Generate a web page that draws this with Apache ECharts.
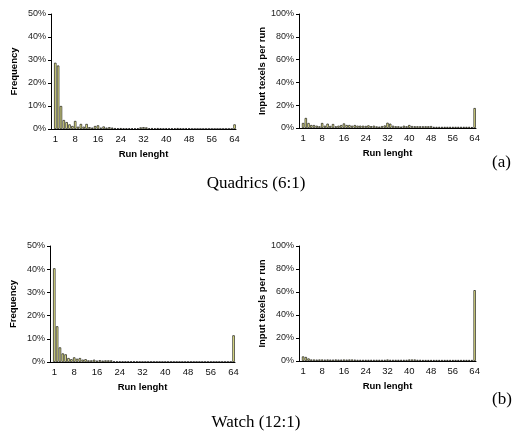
<!DOCTYPE html>
<html>
<head>
<meta charset="utf-8">
<script src="https://cdn.jsdelivr.net/npm/echarts@6/dist/echarts.min.js"></script>
<style>
  html, body { margin: 0; padding: 0; background: #fff; }
  #chart { width: 512px; height: 434px; }
</style>
</head>
<body>
<div id="chart"></div>
<script>
// Run lengths (category 0 is kept empty, as in the original axis)
const runLengths = [0, 1, 2, 3, 4, 5, 6, 7, 8, 9, 10, 11, 12, 13, 14, 15, 16,
  17, 18, 19, 20, 21, 22, 23, 24, 25, 26, 27, 28, 29, 30, 31, 32,
  33, 34, 35, 36, 37, 38, 39, 40, 41, 42, 43, 44, 45, 46, 47, 48,
  49, 50, 51, 52, 53, 54, 55, 56, 57, 58, 59, 60, 61, 62, 63, 64];

// Quadrics (6:1) - frequency, %
const quadricsFreq = [null,
  28.8, 27.6, 10.0, 3.9, 3.0, 2.0, 1.3, 3.5, 1.0, 2.2, 1.0, 2.2, 0.8, 0.6, 1.3, 1.6,
  0.6, 1.1, 0.6, 0.8, 0.6, 0.4, 0.3, 0.4, 0.3, 0.3, 0.3, 0.3, 0.3, 0.3, 0.7, 0.8,
  0.7, 0.3, 0.4, 0.3, 0.4, 0.3, 0.2, 0.3, 0.2, 0.3, 0.3, 0.4, 0.3, 0.2, 0.3, 0.3,
  0.1, 0.1, 0.1, 0.1, 0.1, 0.1, 0.1, 0.1, 0.1, 0.1, 0.1, 0.1, 0.1, 0.1, 0.1, 2.0];

// Quadrics (6:1) - input texels per run, %
const quadricsTexels = [null,
  4.4, 8.8, 4.4, 2.6, 2.6, 2.0, 1.5, 4.4, 2.0, 3.8, 1.8, 3.5, 1.5, 2.0, 2.6, 4.0,
  2.6, 2.6, 2.0, 2.6, 2.0, 2.0, 2.0, 1.8, 2.3, 1.6, 2.0, 1.4, 1.2, 1.7, 2.2, 4.6,
  3.8, 2.0, 1.5, 1.5, 1.2, 2.0, 1.5, 2.6, 1.7, 1.5, 1.5, 1.5, 1.5, 1.5, 1.5, 1.7,
  1.0, 1.0, 1.0, 1.0, 1.0, 1.0, 1.0, 1.0, 1.0, 1.0, 1.0, 1.0, 1.0, 1.0, 0.8, 17.5];

// Watch (12:1) - frequency, %
const watchFreq = [null,
  40.4, 15.4, 6.3, 3.7, 3.3, 1.7, 1.2, 2.0, 1.4, 1.7, 1.0, 1.2, 0.7, 0.7, 1.0, 0.6,
  0.8, 0.6, 0.7, 0.7, 0.7, 0.2, 0.2, 0.2, 0.2, 0.2, 0.2, 0.2, 0.2, 0.2, 0.1, 0.1,
  0.1, 0.1, 0.1, 0.1, 0.1, 0.1, 0.1, 0.1, 0.1, 0.1, 0.1, 0.1, 0.1, 0.1, 0.1, 0.1,
  0.1, 0.1, 0.1, 0.1, 0.1, 0.1, 0.1, 0.1, 0.1, 0.1, 0.1, 0.1, 0.1, 0.1, 0.1, 11.5];

// Watch (12:1) - input texels per run, %
const watchTexels = [null,
  4.0, 3.5, 2.2, 1.3, 1.3, 1.2, 1.3, 1.3, 1.2, 1.3, 1.2, 1.2, 1.3, 1.2, 1.2, 1.3,
  1.2, 1.3, 1.3, 1.2, 1.0, 1.0, 1.0, 1.0, 1.0, 1.0, 1.0, 1.0, 1.0, 1.0, 1.0, 1.3,
  1.0, 1.0, 1.0, 1.0, 1.0, 1.0, 1.0, 1.3, 1.3, 1.3, 1.0, 1.0, 0.9, 0.9, 0.9, 0.9,
  0.9, 0.9, 0.9, 0.9, 0.9, 0.9, 0.9, 0.9, 0.9, 0.9, 0.9, 0.9, 0.9, 0.9, 0.9, 61.6];

const xLabelShown = (idx) => idx === 1 || (idx > 0 && idx % 8 === 0);

const sans = 'Liberation Sans';
const serif = 'Liberation Serif';

const grids = [
  { left: 51, top: 14, width: 185, height: 115 },
  { left: 299, top: 14, width: 177, height: 114 },
  { left: 50, top: 246, width: 185, height: 116 },
  { left: 299, top: 246, width: 177, height: 115 }
];

const xAxisFor = (gridIndex) => ({
  type: 'category',
  gridIndex: gridIndex,
  data: runLengths,
  name: 'Run lenght',
  nameLocation: 'middle',
  nameGap: 20,
  nameTextStyle: { fontFamily: sans, fontSize: 9.5, fontWeight: 'bold', color: '#000' },
  axisLine: { lineStyle: { color: '#000', width: 1 } },
  axisTick: { interval: 0, length: 3, lineStyle: { color: '#000', width: 0.8 } },
  axisLabel: {
    interval: (idx) => xLabelShown(idx),
    fontFamily: sans, fontSize: 9.5, color: '#111', margin: 5
  }
});

const yAxisFor = (gridIndex, max, interval, name) => ({
  type: 'value',
  gridIndex: gridIndex,
  min: 0,
  max: max,
  interval: interval,
  name: name,
  nameLocation: 'middle',
  nameGap: 32,
  nameTextStyle: { fontFamily: sans, fontSize: 9.5, fontWeight: 'bold', color: '#000' },
  axisLine: { show: true, lineStyle: { color: '#000', width: 1 } },
  axisTick: { show: true, length: 3, lineStyle: { color: '#000' } },
  axisLabel: { formatter: '{value}%', fontFamily: sans, fontSize: 9, color: '#222', margin: 5 },
  splitLine: { show: false }
});

const barSeries = (index, data) => ({
  type: 'bar',
  xAxisIndex: index,
  yAxisIndex: index,
  data: data,
  barCategoryGap: '15%',
  itemStyle: { color: '#ffff99', borderColor: '#111', borderWidth: 0.7 },
  silent: true
});

const chart = echarts.init(document.getElementById('chart'));

chart.setOption({
  animation: false,
  backgroundColor: '#fff',
  grid: grids,
  xAxis: [xAxisFor(0), xAxisFor(1), xAxisFor(2), xAxisFor(3)],
  yAxis: [
    yAxisFor(0, 50, 10, 'Frequency'),
    yAxisFor(1, 100, 20, 'Input texels per run'),
    yAxisFor(2, 50, 10, 'Frequency'),
    yAxisFor(3, 100, 20, 'Input texels per run')
  ],
  series: [
    barSeries(0, quadricsFreq),
    barSeries(1, quadricsTexels),
    barSeries(2, watchFreq),
    barSeries(3, watchTexels)
  ],
  title: [
    { text: 'Quadrics (6:1)', left: 'center', top: 170,
      textStyle: { fontFamily: serif, fontSize: 17, fontWeight: 'normal', color: '#000' } },
    { text: '(a)', left: 487, top: 149,
      textStyle: { fontFamily: serif, fontSize: 17, fontWeight: 'normal', color: '#000' } },
    { text: 'Watch (12:1)', left: 'center', top: 409,
      textStyle: { fontFamily: serif, fontSize: 17, fontWeight: 'normal', color: '#000' } },
    { text: '(b)', left: 487, top: 386,
      textStyle: { fontFamily: serif, fontSize: 17, fontWeight: 'normal', color: '#000' } }
  ]
});

window.addEventListener('resize', () => chart.resize());
</script>
</body>
</html>
